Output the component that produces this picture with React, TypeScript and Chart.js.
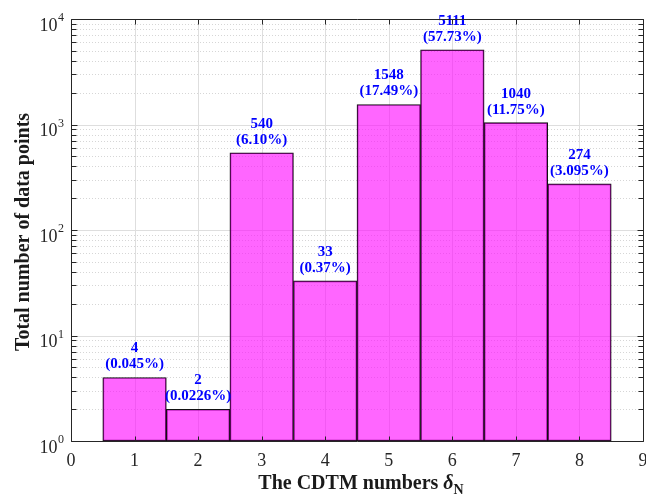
import { useEffect, useRef } from 'react';
import { Chart, registerables } from 'chart.js';

Chart.register(...registerables);

const bins = [1, 2, 3, 4, 5, 6, 7, 8];
const counts = [4, 2, 540, 33, 1548, 5111, 1040, 274];
const percentLabels = ['(0.045%)', '(0.0226%)', '(6.10%)', '(0.37%)', '(17.49%)', '(57.73%)', '(11.75%)', '(3.095%)'];
const xTicks = [0, 1, 2, 3, 4, 5, 6, 7, 8, 9];
const yExponents = [0, 1, 2, 3, 4];
const xTitleText = 'The CDTM numbers ';
const xTitleSymbol = 'δ';
const xTitleSub = 'N';
const yTitleText = 'Total number of data points';

const SERIF = '"Liberation Serif", "Times New Roman", serif';
const AXIS_COLOR = '#262626';
const crisp = (v: number) => Math.round(v) + 0.5;

const decorPlugin = {
  id: 'decor',
  beforeDatasetsDraw(chart: any) {
    const { ctx, chartArea: a, scales } = chart;
    const xs = scales.x;
    const ys = scales.y;
    ctx.save();
    // minor y grid (dotted)
    ctx.strokeStyle = '#d6d6d6';
    ctx.lineWidth = 1;
    ctx.setLineDash([1, 2]);
    for (let e = 0; e < 4; e++) {
      for (let m = 2; m <= 9; m++) {
        const y = crisp(ys.getPixelForValue(m * Math.pow(10, e)));
        ctx.beginPath();
        ctx.moveTo(a.left, y);
        ctx.lineTo(a.right, y);
        ctx.stroke();
      }
    }
    ctx.setLineDash([]);
    ctx.strokeStyle = '#dedede';
    for (const e of yExponents) {
      const y = crisp(ys.getPixelForValue(Math.pow(10, e)));
      ctx.beginPath();
      ctx.moveTo(a.left, y);
      ctx.lineTo(a.right, y);
      ctx.stroke();
    }
    for (const t of xTicks) {
      const x = crisp(xs.getPixelForValue(t));
      ctx.beginPath();
      ctx.moveTo(x, a.top);
      ctx.lineTo(x, a.bottom);
      ctx.stroke();
    }
    ctx.restore();
  },
  afterDatasetsDraw(chart: any) {
    const { ctx, chartArea: a, scales } = chart;
    const xs = scales.x;
    const ys = scales.y;
    ctx.save();
    // bar labels
    ctx.fillStyle = '#0000ff';
    ctx.font = `bold 15px ${SERIF}`;
    ctx.textAlign = 'center';
    ctx.textBaseline = 'alphabetic';
    bins.forEach((b, i) => {
      const x = xs.getPixelForValue(b);
      const top = ys.getPixelForValue(counts[i]);
      ctx.fillText(String(counts[i]), x, top - 25);
      ctx.fillText(percentLabels[i], x, top - 9);
    });
    // box
    const L = crisp(a.left), R = crisp(a.right), T = crisp(a.top), B = crisp(a.bottom);
    ctx.strokeStyle = AXIS_COLOR;
    ctx.lineWidth = 1;
    ctx.beginPath();
    ctx.rect(L, T, R - L, B - T);
    ctx.stroke();
    // x ticks
    const tl = 5;
    ctx.beginPath();
    for (const t of xTicks) {
      const x = crisp(xs.getPixelForValue(t));
      ctx.moveTo(x, B);
      ctx.lineTo(x, B - tl);
      ctx.moveTo(x, T);
      ctx.lineTo(x, T + tl);
    }
    // y ticks major + minor
    for (const e of yExponents) {
      const y = crisp(ys.getPixelForValue(Math.pow(10, e)));
      ctx.moveTo(L, y);
      ctx.lineTo(L + 6, y);
      ctx.moveTo(R, y);
      ctx.lineTo(R - 6, y);
      if (e < 4) {
        for (let m = 2; m <= 9; m++) {
          const ym = crisp(ys.getPixelForValue(m * Math.pow(10, e)));
          ctx.moveTo(L, ym);
          ctx.lineTo(L + 5, ym);
          ctx.moveTo(R, ym);
          ctx.lineTo(R - 5, ym);
        }
      }
    }
    ctx.stroke();
    // x tick labels
    ctx.fillStyle = AXIS_COLOR;
    ctx.font = `18px ${SERIF}`;
    ctx.textAlign = 'center';
    for (const t of xTicks) {
      ctx.fillText(String(t), xs.getPixelForValue(t), 466);
    }
    // y tick labels 10^e
    for (const e of yExponents) {
      const y = ys.getPixelForValue(Math.pow(10, e));
      ctx.font = `18px ${SERIF}`;
      ctx.textAlign = 'right';
      ctx.fillText('10', 57.5, y + 11.5);
      ctx.font = `12px ${SERIF}`;
      ctx.textAlign = 'left';
      ctx.fillText(String(e), 58, y + 2);
    }
    // x title
    ctx.fillStyle = '#1a1a1a';
    ctx.font = `bold 20px ${SERIF}`;
    const w1 = ctx.measureText(xTitleText).width;
    ctx.font = `italic bold 20px ${SERIF}`;
    const w2 = ctx.measureText(xTitleSymbol).width;
    ctx.font = `bold 14px ${SERIF}`;
    const w3 = ctx.measureText(xTitleSub).width;
    const cx = (a.left + a.right) / 2 + 4;
    let sx = cx - (w1 + w2 + w3) / 2;
    ctx.textAlign = 'left';
    ctx.font = `bold 20px ${SERIF}`;
    ctx.fillText(xTitleText, sx, 489);
    sx += w1;
    ctx.font = `italic bold 20px ${SERIF}`;
    ctx.fillText(xTitleSymbol, sx, 489);
    sx += w2;
    ctx.font = `bold 14px ${SERIF}`;
    ctx.fillText(xTitleSub, sx, 494);
    // y title
    ctx.save();
    ctx.translate(29, (a.top + a.bottom) / 2 + 2);
    ctx.rotate(-Math.PI / 2);
    ctx.font = `bold 20px ${SERIF}`;
    ctx.textAlign = 'center';
    ctx.fillText(yTitleText, 0, 0);
    ctx.restore();
    ctx.restore();
  },
};

export default function App() {
  const ref = useRef<HTMLCanvasElement>(null);
  useEffect(() => {
    const chart = new Chart(ref.current as HTMLCanvasElement, {
      type: 'bar',
      data: {
        datasets: [
          {
            data: bins.map((b, i) => ({ x: b, y: counts[i] })),
            backgroundColor: 'rgba(255,0,255,0.6)',
            borderColor: '#111111',
            borderWidth: 1,
            borderSkipped: false,
            categoryPercentage: 1,
            barPercentage: 1,
          } as any,
        ],
      },
      options: {
        responsive: false,
        animation: false,
        devicePixelRatio: 1,
        layout: { padding: { top: 19, right: 3, left: 0, bottom: 0 } },
        plugins: { legend: { display: false }, tooltip: { enabled: false } },
        scales: {
          x: {
            type: 'linear',
            min: 0,
            max: 9,
            offset: false,
            grid: { display: false },
            border: { display: false },
            ticks: { display: false },
            afterFit: (s: any) => {
              s.height = 56;
            },
          },
          y: {
            type: 'logarithmic',
            min: 1,
            max: 10000,
            grid: { display: false },
            border: { display: false },
            ticks: { display: false },
            afterFit: (s: any) => {
              s.width = 71;
            },
          },
        },
      } as any,
      plugins: [decorPlugin],
    });
    return () => chart.destroy();
  }, []);
  return (
    <div style={{ position: 'absolute', left: 0, top: 0, width: 646, height: 497, background: '#fff' }}>
      <canvas ref={ref} width={646} height={497} style={{ display: 'block', width: 646, height: 497 }} />
    </div>
  );
}
